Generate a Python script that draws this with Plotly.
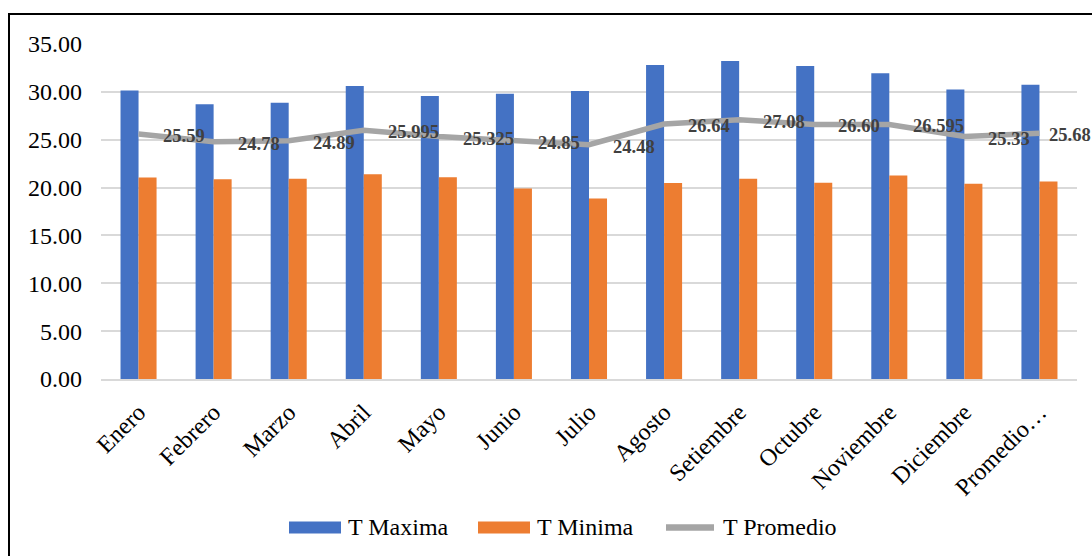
import plotly.graph_objects as go

# Monthly temperatures (°C)
meses = ["Enero", "Febrero", "Marzo", "Abril", "Mayo", "Junio", "Julio",
         "Agosto", "Setiembre", "Octubre", "Noviembre", "Diciembre", "Promedio…"]
t_maxima = [30.14, 28.70, 28.87, 30.60, 29.56, 29.80, 30.10,
            32.81, 33.23, 32.70, 31.94, 30.25, 30.73]
t_minima = [21.04, 20.86, 20.91, 21.39, 21.09, 19.90, 18.86,
            20.47, 20.93, 20.50, 21.25, 20.41, 20.63]
t_promedio_txt = ["25.59", "24.78", "24.89", "25.995", "25.325", "24.85", "24.48",
                  "26.64", "27.08", "26.60", "26.595", "25.33", "25.68"]
t_promedio = [float(s) for s in t_promedio_txt]
y_ticks = [0, 5, 10, 15, 20, 25, 30, 35]

BLUE = "#4472C4"
ORANGE = "#ED7D31"
GRAY = "#A5A5A5"
FONT = "Liberation Serif, Times New Roman, serif"

W, H = 1092, 556
L, R, T, B = 101, 15, 44, 177
PW, PH = W - L - R, H - T - B


def px_x(px):
    return (px - L) / PW


def px_y(py):
    return (H - B - py) / PH


fig = go.Figure()
fig.add_trace(go.Bar(x=meses, y=t_maxima, name="T Maxima",
                     marker=dict(color=BLUE, line=dict(width=0))))
fig.add_trace(go.Bar(x=meses, y=t_minima, name="T Minima",
                     marker=dict(color=ORANGE, line=dict(width=0))))
fig.add_trace(go.Scatter(x=meses, y=t_promedio, name="T Promedio", mode="lines",
                         line=dict(color=GRAY, width=5.5)))

annotations = []
# value labels to the right of each point of the average line
for i, (m, v, s) in enumerate(zip(meses, t_promedio, t_promedio_txt)):
    annotations.append(dict(
        x=m, y=v, xref="x", yref="y", text=s, showarrow=False,
        xanchor="left", yanchor="middle",
        xshift=22 if i < len(meses) - 1 else 8, yshift=-2,
        font=dict(family=FONT, size=18.5, color="#404040", weight="bold"),
    ))

# legend drawn along the bottom
shapes = []
legend_items = [
    ("bar", BLUE, 289, 341, 346, "T Maxima"),
    ("bar", ORANGE, 478, 530, 535, "T Minima"),
    ("line", GRAY, 663, 717, 721, "T Promedio"),
]
ly = 527.5
for kind, col, x0, x1, tx, label in legend_items:
    if kind == "bar":
        shapes.append(dict(type="rect", xref="paper", yref="paper",
                           x0=px_x(x0), x1=px_x(x1), y0=px_y(ly + 6), y1=px_y(ly - 6),
                           fillcolor=col, line=dict(width=0)))
    else:
        shapes.append(dict(type="line", xref="paper", yref="paper",
                           x0=px_x(x0 + 3), x1=px_x(x1 - 3), y0=px_y(ly), y1=px_y(ly),
                           line=dict(color=col, width=6.5)))
    annotations.append(dict(
        x=px_x(tx), y=px_y(ly - 1), xref="paper", yref="paper", text=label,
        showarrow=False, xanchor="left", yanchor="middle",
        font=dict(family=FONT, size=24, color="#000000"),
    ))

# chart frame (left and top edges)
shapes.append(dict(type="line", xref="paper", yref="paper",
                   x0=px_x(9), x1=px_x(9), y0=px_y(13.5), y1=px_y(H + 10),
                   line=dict(color="#000000", width=2)))
shapes.append(dict(type="line", xref="paper", yref="paper",
                   x0=px_x(8), x1=px_x(W + 10), y0=px_y(14), y1=px_y(14),
                   line=dict(color="#000000", width=2)))

fig.update_layout(
    width=W, height=H,
    margin=dict(l=L, r=R, t=T, b=B, pad=0, autoexpand=False),
    paper_bgcolor="white", plot_bgcolor="white",
    barmode="group", bargap=0.52, bargroupgap=0,
    showlegend=False,
    font=dict(family=FONT, size=24, color="#000000"),
    shapes=shapes, annotations=annotations,
)
fig.update_xaxes(
    type="category", range=[-0.5, len(meses) - 0.5],
    tickangle=-45, showgrid=False, ticks="",
    showline=True, linecolor="#D9D9D9", linewidth=1.5, automargin=False,
    tickfont=dict(family=FONT, size=24, color="#000000"),
    ticklabelstandoff=8,
)
fig.update_yaxes(
    range=[0, 35], tickvals=y_ticks, tickformat=".2f",
    showgrid=True, gridcolor="#D9D9D9", gridwidth=1.5,
    zeroline=False, showline=False, ticks="", automargin=False,
    tickfont=dict(family=FONT, size=24, color="#000000"),
    ticklabelstandoff=18,
)

fig.write_html("out.html")
